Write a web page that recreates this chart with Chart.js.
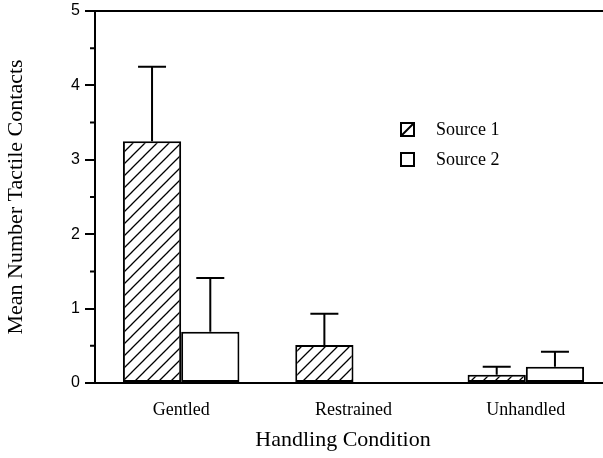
<!DOCTYPE html>
<html>
<head>
<meta charset="utf-8">
<script src="https://cdn.jsdelivr.net/npm/chart.js@4"></script>
<style>
  html, body { margin: 0; padding: 0; background: #fff; overflow: hidden; }
  #wrap { position: relative; width: 612px; height: 458px; }
</style>
</head>
<body>
<div id="wrap"><canvas id="c"></canvas></div>
<script>
// ---- data ----
const categories = ['Gentled', 'Restrained', 'Unhandled'];
const seriesNames = ['Source 1', 'Source 2'];
const source1Means = [3.25, 0.51, 0.11];
const source1Errors = [1.00, 0.42, 0.11];
const source2Means = [0.69, 0, 0.22];
const source2Errors = [0.72, 0, 0.20];
const yTickValues = [0, 1, 2, 3, 4, 5];
const xAxisTitle = 'Handling Condition';
const yAxisTitle = 'Mean Number Tactile Contacts';

// ---- hatch pattern ----
function makeHatch() {
  const n = 12;
  const c = document.createElement('canvas');
  c.width = n; c.height = n;
  const p = c.getContext('2d');
  p.fillStyle = '#fff'; p.fillRect(0, 0, n, n);
  p.strokeStyle = '#000'; p.lineWidth = 1.3;
  p.beginPath();
  p.moveTo(-1, n + 1); p.lineTo(n + 1, -1);
  p.moveTo(-n / 2 - 1, n / 2 + 1); p.lineTo(n / 2 + 1, -n / 2 - 1);
  p.moveTo(n / 2 - 1, n * 1.5 + 1); p.lineTo(n * 1.5 + 1, n / 2 - 1);
  p.stroke();
  return p.createPattern(c, 'repeat');
}
const hatch = makeHatch();

const SERIF = '"Liberation Serif", "Times New Roman", serif';
const SANS = '"Liberation Sans", Arial, sans-serif';

const errorBars = {
  id: 'errorBars',
  afterDatasetsDraw(chart) {
    const ctx = chart.ctx, y = chart.scales.y;
    chart.data.datasets.forEach((ds, i) => {
      const meta = chart.getDatasetMeta(i);
      meta.data.forEach((bar, j) => {
        const e = ds.errors[j];
        if (!e) return;
        const top = y.getPixelForValue(ds.data[j] + e);
        ctx.save();
        ctx.strokeStyle = '#000'; ctx.lineWidth = 2;
        ctx.beginPath();
        ctx.moveTo(bar.x, bar.y); ctx.lineTo(bar.x, top);
        ctx.moveTo(bar.x - 14, top); ctx.lineTo(bar.x + 14, top);
        ctx.stroke();
        ctx.restore();
      });
    });
  }
};

const decorations = {
  id: 'decorations',
  afterDraw(chart) {
    const ctx = chart.ctx, a = chart.chartArea, y = chart.scales.y;
    ctx.save();
    ctx.strokeStyle = '#000'; ctx.lineWidth = 2;
    // top frame line
    ctx.beginPath(); ctx.moveTo(a.left, a.top); ctx.lineTo(a.right, a.top); ctx.stroke();
    // minor ticks
    ctx.beginPath();
    for (let v = 0.5; v < 5; v += 1) {
      const py = y.getPixelForValue(v);
      ctx.moveTo(a.left - 5, py); ctx.lineTo(a.left, py);
    }
    ctx.stroke();
    // axis titles
    ctx.fillStyle = '#000';
    ctx.font = '22px ' + SERIF;
    ctx.textAlign = 'center'; ctx.textBaseline = 'middle';
    ctx.fillText(xAxisTitle, 343, 440);
    ctx.save();
    ctx.translate(16, (a.top + a.bottom) / 2); ctx.rotate(-Math.PI / 2);
    ctx.fillText(yAxisTitle, 0, 0);
    ctx.restore();
    // legend
    const boxes = [{ y: 123, fill: true }, { y: 153, fill: false }];
    ctx.font = '18px ' + SERIF;
    ctx.textAlign = 'left';
    boxes.forEach((b, i) => {
      ctx.lineWidth = 2;
      ctx.strokeRect(401, b.y, 13, 13);
      if (b.fill) {
        ctx.beginPath(); ctx.moveTo(401, b.y + 13); ctx.lineTo(414, b.y); ctx.stroke();
      }
      ctx.fillText(seriesNames[i], 436, b.y + 7);
    });
    ctx.restore();
  }
};

new Chart(document.getElementById('c'), {
  type: 'bar',
  data: {
    labels: categories,
    datasets: [
      { label: seriesNames[0], data: source1Means, errors: source1Errors,
        backgroundColor: hatch, borderColor: '#000', borderWidth: 2, borderSkipped: false },
      { label: seriesNames[1], data: source2Means, errors: source2Errors,
        backgroundColor: '#fff', borderColor: '#000', borderWidth: 2, borderSkipped: false }
    ]
  },
  options: {
    responsive: true,
    maintainAspectRatio: false,
    animation: false,
    datasets: { bar: { barPercentage: 1, categoryPercentage: 0.676 } },
    layout: { padding: { top: 11, right: 0, left: 0, bottom: 0 } },
    plugins: { legend: { display: false }, tooltip: { enabled: false } },
    scales: {
      x: {
        grid: { display: false, drawTicks: false },
        border: { display: true, color: '#000', width: 2 },
        ticks: { color: '#000', font: { family: SERIF, size: 18 }, padding: 16 },
        afterFit(s) { s.height = 75; s.paddingLeft = 0; s.paddingRight = 0; }
      },
      y: {
        min: 0, max: 5,
        afterBuildTicks(s) { s.ticks = yTickValues.map(v => ({ value: v })); },
        grid: { drawOnChartArea: false, drawTicks: true, tickLength: 10, color: '#000', lineWidth: 2 },
        border: { display: true, color: '#000', width: 2 },
        ticks: { color: '#000', font: { family: SANS, size: 16 }, padding: 5 },
        afterFit(s) { s.width = 95; s.paddingTop = 0; s.paddingBottom = 0; }
      }
    }
  },
  plugins: [errorBars, decorations]
});
</script>
</body>
</html>
